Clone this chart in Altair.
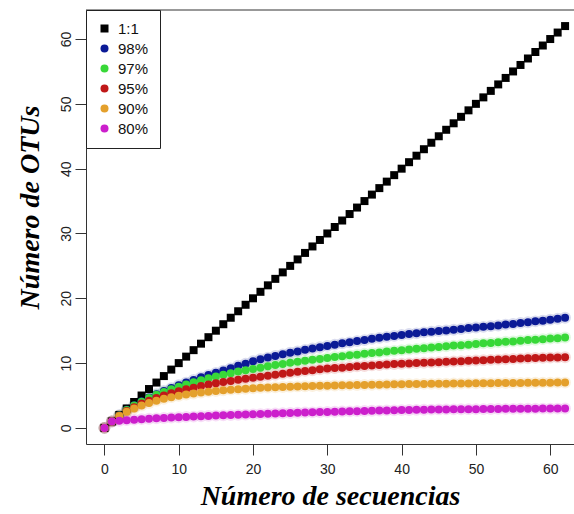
import altair as alt
import pandas as pd

n_seq = list(range(63))
series = ["1:1", "98%", "97%", "95%", "90%", "80%"]
colors = ["#000000", "#0b1a96", "#38d838", "#c01818", "#e4a02c", "#cc1fcc"]
shapes = ["square", "circle", "circle", "circle", "circle", "circle"]

one_to_one = list(range(63))
otu98 = [0, 1.0, 1.95, 2.8, 3.5, 4.1, 4.7, 5.2, 5.7, 6.15,
         6.6, 7.0, 7.4, 7.8, 8.15, 8.5, 8.85, 9.2, 9.6, 9.9,
         10.3, 10.6, 10.85, 11.1, 11.35, 11.6, 11.8, 12.05, 12.25, 12.45,
         12.65, 12.85, 13.05, 13.2, 13.4, 13.55, 13.75, 13.9, 14.05, 14.2,
         14.35, 14.5, 14.6, 14.75, 14.85, 14.95, 15.05, 15.15, 15.25, 15.4,
         15.5, 15.6, 15.7, 15.8, 15.95, 16.05, 16.2, 16.3, 16.45, 16.55,
         16.7, 16.85, 17.0]
otu97 = [0, 1, 1.9, 2.75, 3.45, 4.05, 4.6, 5.1, 5.55, 5.95,
         6.35, 6.7, 7.05, 7.35, 7.65, 7.95, 8.2, 8.45, 8.7, 8.9,
         9.1, 9.3, 9.5, 9.7, 9.85, 10.05, 10.2, 10.35, 10.5, 10.65,
         10.8, 10.95, 11.05, 11.2, 11.3, 11.45, 11.55, 11.65, 11.8, 11.9,
         12.0, 12.1, 12.2, 12.3, 12.4, 12.5, 12.6, 12.7, 12.75, 12.85,
         12.95, 13.05, 13.1, 13.2, 13.3, 13.35, 13.45, 13.55, 13.6, 13.7,
         13.8, 13.85, 13.95]
otu95 = [0, 1, 1.88, 2.6, 3.2, 3.75, 4.2, 4.6, 5.0, 5.35,
         5.65, 5.95, 6.2, 6.45, 6.7, 6.9, 7.1, 7.25, 7.45, 7.6,
         7.75, 7.9, 8.05, 8.2, 8.35, 8.5, 8.65, 8.8, 8.9, 9.05,
         9.15, 9.25, 9.3, 9.4, 9.5, 9.55, 9.65, 9.7, 9.8, 9.85,
         9.9, 9.95, 10.0, 10.05, 10.1, 10.15, 10.2, 10.25, 10.3, 10.35,
         10.4, 10.45, 10.5, 10.55, 10.6, 10.65, 10.7, 10.75, 10.8, 10.82,
         10.85, 10.88, 10.9]
otu90 = [0, 1, 1.85, 2.5, 3.0, 3.45, 3.85, 4.2, 4.5, 4.75,
         4.95, 5.15, 5.3, 5.45, 5.6, 5.7, 5.8, 5.9, 5.98, 6.05,
         6.12, 6.18, 6.23, 6.28, 6.32, 6.36, 6.4, 6.43, 6.46, 6.49,
         6.52, 6.55, 6.57, 6.6, 6.62, 6.64, 6.66, 6.68, 6.7, 6.72,
         6.74, 6.76, 6.77, 6.79, 6.8, 6.82, 6.83, 6.85, 6.86, 6.87,
         6.88, 6.9, 6.91, 6.92, 6.93, 6.94, 6.95, 6.96, 6.97, 6.98,
         6.98, 6.99, 7.0]
otu80 = [0, 1, 1.1, 1.2, 1.28, 1.35, 1.42, 1.48, 1.54, 1.6,
         1.65, 1.7, 1.75, 1.8, 1.85, 1.9, 1.94, 1.98, 2.02, 2.06,
         2.1, 2.14, 2.18, 2.22, 2.26, 2.3, 2.34, 2.38, 2.41, 2.44,
         2.47, 2.5, 2.53, 2.56, 2.59, 2.62, 2.65, 2.68, 2.7, 2.72,
         2.75, 2.77, 2.79, 2.81, 2.83, 2.85, 2.86, 2.87, 2.88, 2.89,
         2.9, 2.91, 2.92, 2.93, 2.94, 2.95, 2.96, 2.97, 2.97, 2.98,
         2.99, 2.99, 3.0]

x_ticks = [0, 10, 20, 30, 40, 50, 60]
y_ticks = [0, 10, 20, 30, 40, 50, 60]

values = [one_to_one, otu98, otu97, otu95, otu90, otu80]
rows = []
for s, vals in zip(series, values):
    for n, v in zip(n_seq, vals):
        rows.append({"n": n, "otus": v, "serie": s})
df = pd.DataFrame(rows)

W, H = 488, 434

xscale = alt.Scale(domain=[-2.48, 63.2], nice=False, zero=False)
yscale = alt.Scale(domain=[-2.48, 64.48], nice=False, zero=False)

common_axis = dict(grid=False, tickSize=11, tickColor="#333333", domainColor="#333333",
                   labelFontSize=14, labelFont="Liberation Sans", labelColor="#222222",
                   titleFont="Liberation Serif", titleFontSize=28, titleFontStyle="italic",
                   titleFontWeight="bold", titleColor="#000000", labelFlush=False)

x_enc = alt.X("n:Q", scale=xscale,
              axis=alt.Axis(values=x_ticks, title="Número de secuencias", labelPadding=7,
                            titleX=244, titleY=60, titleAlign="center", titleBaseline="alphabetic",
                            **common_axis))
y_enc = alt.Y("otus:Q", scale=yscale,
              axis=alt.Axis(values=y_ticks, title="Número de OTUs", labelAngle=270,
                            labelAlign="center", labelBaseline="alphabetic", labelPadding=5,
                            titleAngle=270, titleX=-48, titleY=197, titleAlign="center",
                            titleBaseline="alphabetic", **common_axis))

legend = alt.Legend(orient="none", legendX=0, legendY=0, title=None,
                    strokeColor="#222222", fillColor="#ffffff", padding=11,
                    labelFontSize=15, labelFont="Liberation Sans", labelColor="#111111",
                    symbolSize=64, rowPadding=4, labelOffset=6, symbolStrokeWidth=0)

halos = []
for s, c in zip(series[1:], colors[1:]):
    halos.append(
        alt.Chart(df).transform_filter(alt.datum.serie == s).mark_circle(
            size=140, opacity=0.15, color=c).encode(x=x_enc, y=y_enc)
    )

points = alt.Chart(df).mark_point(filled=True, size=64, opacity=1).encode(
    x=x_enc, y=y_enc,
    color=alt.Color("serie:N", scale=alt.Scale(domain=series, range=colors), legend=legend,
                    sort=series),
    shape=alt.Shape("serie:N", scale=alt.Scale(domain=series, range=shapes), legend=legend,
                    sort=series),
)

topline = alt.Chart(pd.DataFrame({"a": [0]})).mark_rule(color="#333333", strokeWidth=1).encode(
    x=alt.value(0), x2=alt.value(W), y=alt.value(0))

chart = alt.layer(*halos, points, topline).properties(
    width=W, height=H,
    padding={"left": 86, "top": 10, "right": 0, "bottom": 70},
    autosize=alt.AutoSizeParams(type="none"),
    background="#ffffff",
).configure_view(stroke=None)

chart.save("out.html", embed_options={"renderer": "svg", "actions": False})
